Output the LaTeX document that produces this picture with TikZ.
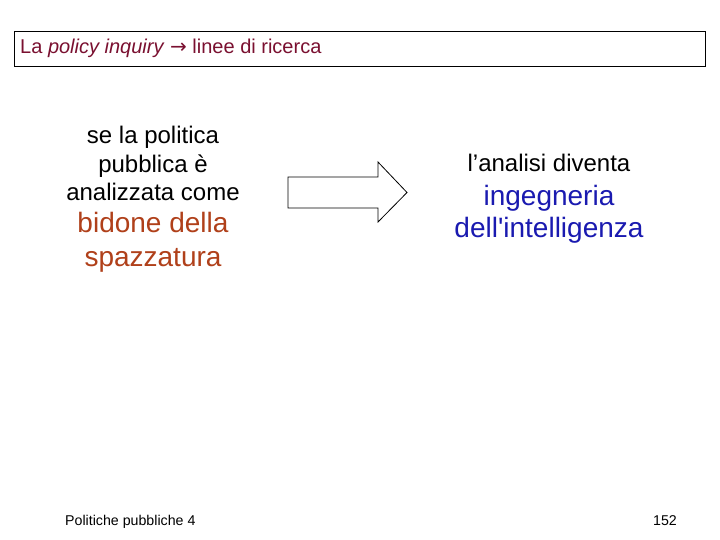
\documentclass[tikz,border=0pt]{standalone}
\usepackage{fontspec}
\setmainfont{Liberation Sans}
\newfontfamily\symfont{DejaVu Sans}
\definecolor{titlered}{HTML}{7A1030}
\definecolor{rust}{HTML}{B0401A}
\definecolor{navy}{HTML}{1A1AB0}
\tikzset{
  txt/.style={anchor=base, inner sep=0pt},
  small/.style={txt, font=\fontsize{24}{28}\selectfont},
  big/.style={txt, font=\fontsize{28}{32}\selectfont},
  foot/.style={txt, font=\fontsize{14.2}{17}\selectfont},
}
\begin{document}
\begin{tikzpicture}[x=1pt,y=-1pt]
\useasboundingbox (0,0) rectangle (720,540);
\fill[white] (0,0) rectangle (720,540);
% title box
\draw[line width=0.8pt] (14,31) rectangle (705,66);
\node[txt, anchor=base west, text=titlered, font=\fontsize{20}{24}\selectfont] (title) at (20,54)
  {La \textit{policy inquiry} {\symfont →} linee di ricerca};
% left text
\node[small] (l1) at (153,144) {se la politica};
\node[small] (l2) at (153,173) {pubblica è};
\node[small] (l3) at (153,201) {analizzata come};
\node[big, text=rust] (l4) at (153,233) {bidone della};
\node[big, text=rust] (l5) at (153,266) {spazzatura};
% block arrow
\draw[line width=0.8pt, fill=white] (288,177) -- (378,177) -- (378,162) -- (407,192.5) -- (378,222) -- (378,208) -- (288,208) -- cycle;
% right text
\node[small] (r1) at (549,172) {l’analisi diventa};
\node[big, text=navy] (r2) at (549,206) {ingegneria};
\node[big, text=navy] (r3) at (549,237) {dell\textquotesingle intelligenza};
% footer
\node[foot, anchor=base west] (f1) at (65,525) {Politiche pubbliche 4};
\node[foot, anchor=base east] (f2) at (677,525) {152};
\end{tikzpicture}
\end{document}
